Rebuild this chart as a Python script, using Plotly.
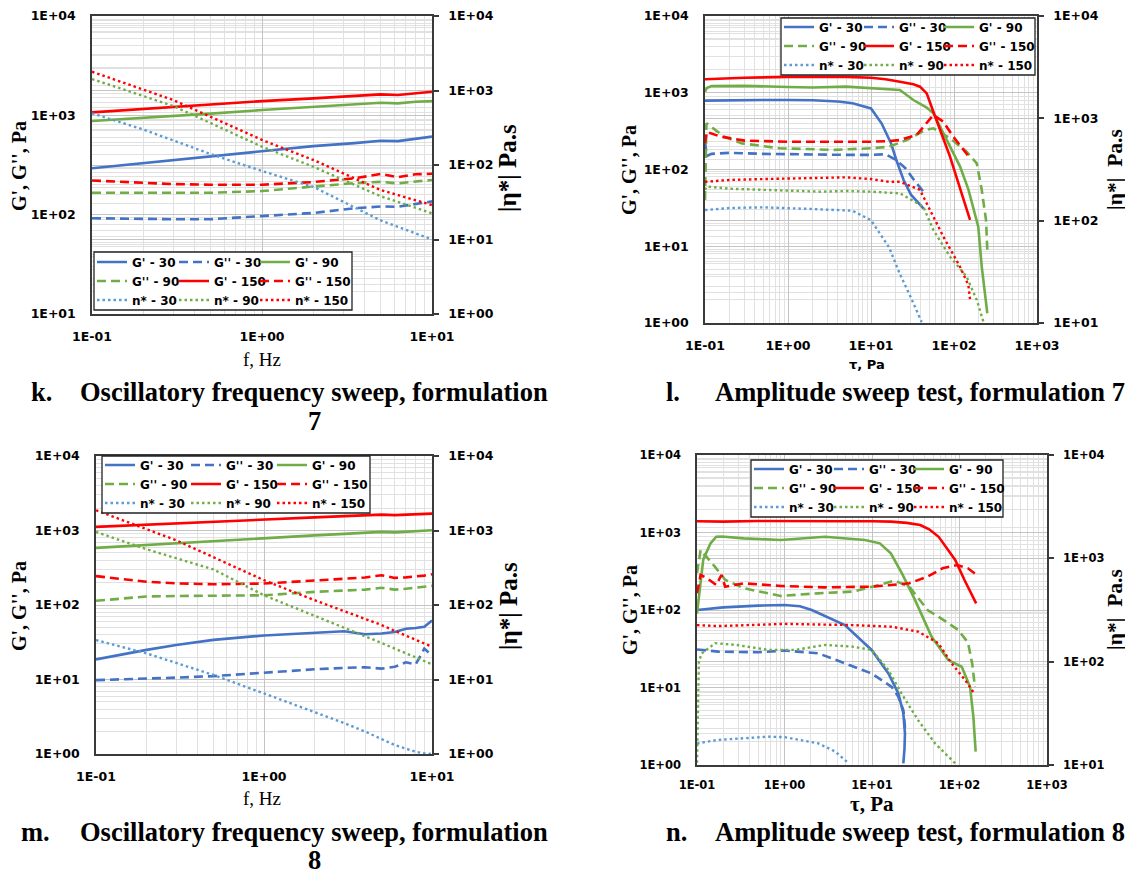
import plotly.graph_objects as go

# ======================= DATA =======================
# k. Oscillatory frequency sweep, formulation 7  (x: f, Hz)
k_freq = [0.1, 0.2, 0.3, 0.5, 1, 2, 3.5, 5, 6.3, 8, 10]
k_gp_30 = [293, 330, 355, 390, 440, 490, 525, 555, 550, 580, 610]
k_gpp_30 = [92, 90, 90, 90, 96, 104, 116, 121, 120, 128, 136]
k_gp_90 = [877, 940, 985, 1040, 1130, 1210, 1290, 1340, 1320, 1370, 1390]
k_gpp_90 = [166, 165, 165, 166, 173, 191, 208, 214, 206, 216, 223]
k_gp_150 = [1070, 1160, 1220, 1290, 1390, 1480, 1560, 1625, 1600, 1680, 1730]
k_gpp_150 = [221, 208, 203, 200, 200, 213, 232, 257, 238, 255, 258]
k_eta_30 = [494, 300, 214, 140, 83, 51, 27, 18, 14.8, 12.1, 10]
k_eta_90 = [1426, 844, 620, 364, 176, 95, 54, 38, 32, 26.6, 22.5]
k_eta_150 = [1786, 1028, 745, 442, 217, 117, 66, 46, 39.5, 33.7, 29]

# m. Oscillatory frequency sweep, formulation 8  (x: f, Hz)
m_freq = [0.1, 0.2, 0.3, 0.5, 1, 2, 3, 4, 5, 6, 7, 8, 9, 10]
m_gp_30 = [18.6, 25, 29, 34, 39, 43, 44.5, 40.5, 41.5, 43.5, 48, 49, 51, 62]
m_gpp_30 = [9.8, 10.2, 10.6, 11.1, 12.4, 13.7, 14.3, 14.6, 14, 14.8, 17, 16, 26, 21]
m_gp_90 = [584, 640, 680, 730, 796, 860, 900, 930, 957, 945, 960, 985, 995, 1008]
m_gpp_90 = [114, 130, 132, 133, 135, 150, 156, 161, 170, 161, 165, 172, 176, 181]
m_gp_150 = [1117, 1200, 1260, 1330, 1416, 1500, 1560, 1600, 1634, 1610, 1630, 1660, 1675, 1686]
m_gpp_150 = [244, 205, 195, 190, 194, 215, 225, 234, 251, 231, 235, 240, 248, 259]
m_eta_30 = [33.8, 22.4, 16.7, 11.5, 6.5, 3.7, 2.6, 2.0, 1.6, 1.32, 1.18, 1.07, 1.02, 1.0]
m_eta_90 = [957, 560, 425, 300, 135, 72, 50, 38, 31, 26, 22.4, 19.7, 17.7, 16]
m_eta_150 = [1870, 1042, 740, 438, 215, 116, 83, 65, 54, 45, 39, 34, 30.5, 27.5]

# l. Amplitude sweep test, formulation 7  (x: tau, Pa)
l_gp_30_x = [0.1, 0.2, 0.5, 1, 2, 4, 6, 10, 13.4, 17.4, 20.2, 24.7, 30.3, 43]
l_gp_30_y = [790, 800, 805, 805, 800, 770, 728, 625, 400, 220, 133, 73, 47, 31]
l_gpp_30_x = [0.1, 0.105, 0.12, 0.2, 0.5, 1, 2, 5, 10, 15, 20, 26, 33, 43]
l_gpp_30_y = [230, 150, 160, 165, 160, 158, 157, 155, 155, 158, 133, 104, 73, 51]
l_gp_90_x = [0.1, 0.105, 0.12, 0.3, 1, 2, 5, 10, 22.3, 32.4, 46.9, 56.4, 74, 89.5, 118, 149, 196, 216, 252]
l_gp_90_y = [1030, 1150, 1220, 1230, 1190, 1170, 1200, 1150, 1086, 804, 640, 540, 300, 200, 110, 55, 18, 5.4, 1.34]
l_gpp_90_x = [0.1, 0.104, 0.17, 0.28, 0.8, 3.6, 10, 16.5, 27, 45, 56.4, 89.5, 142, 188, 216, 243, 252]
l_gpp_90_y = [40, 400, 268, 219, 189, 180, 189, 198, 242, 327, 344, 255, 171, 120, 54, 22, 8.9]
l_gp_150_x = [0.1, 0.3, 1, 2, 5, 10, 15, 22.3, 32.4, 38.9, 46.9, 56.4, 89.5, 156]
l_gp_150_y = [1500, 1570, 1610, 1620, 1610, 1570, 1500, 1390, 1290, 1200, 980, 565, 147, 22]
l_gpp_150_x = [0.1, 0.105, 0.15, 0.3, 1, 3, 10, 16.5, 22.3, 35.5, 46.9, 56.4, 74.3, 98, 149]
l_gpp_150_y = [220, 310, 270, 238, 230, 228, 230, 235, 242, 282, 398, 513, 420, 268, 150]
l_eta_30_x = [0.1, 0.2, 0.5, 1, 2, 6, 10, 16.5, 22.3, 30, 40.8]
l_eta_30_y = [127, 133, 135, 133, 130, 125, 101, 55, 30, 18, 10.2]
l_eta_90_x = [0.1, 0.105, 0.2, 0.5, 1, 2.5, 5, 10, 22.3, 30, 42.7, 56.4, 89.5, 142, 188, 226]
l_eta_90_y = [200, 215, 205, 200, 198, 192, 195, 192, 185, 160, 137, 81, 44.5, 28.3, 16.8, 10.3]
l_eta_150_x = [0.1, 0.2, 0.5, 1, 5, 10, 16.5, 22.3, 38.9, 51.4, 74.3, 118, 149, 156]
l_eta_150_y = [240, 250, 255, 258, 265, 255, 240, 240, 200, 127, 70, 35.5, 23.5, 17]

# n. Amplitude sweep test, formulation 8  (x: tau, Pa)
n_gp_30_x = [0.1, 0.2, 0.5, 1.0, 1.5, 2.05, 4.9, 9.9, 15.4, 20, 22.8, 23.8, 23.5, 22.8]
n_gp_30_y = [100, 108, 114, 116, 112, 100, 64, 30.5, 15.2, 8.4, 4.65, 2.56, 1.6, 1.05]
n_gpp_30_x = [0.1, 0.175, 0.5, 1.0, 2.43, 4.9, 9.9, 16.8, 20, 22.8, 23.8, 23]
n_gpp_30_y = [31, 29, 28.5, 30, 27.6, 20.5, 15.2, 10.2, 7.6, 5.1, 3.1, 2.6]
n_gp_90_x = [0.1, 0.118, 0.143, 0.166, 0.192, 0.343, 0.9, 2.9, 8.3, 12.3, 16.4, 22, 31, 48, 74.5, 106, 132, 144, 153]
n_gp_90_y = [90, 450, 725, 883, 886, 841, 800, 883, 800, 725, 539, 297, 135, 45, 22.6, 18.5, 10.2, 4.2, 1.49]
n_gpp_90_x = [0.1, 0.11, 0.16, 0.211, 0.343, 0.9, 2.38, 6.2, 10.1, 18.1, 26.7, 43.2, 70, 97, 125, 140, 150]
n_gpp_90_y = [300, 594, 362, 244, 191, 152, 164, 173, 200, 239, 200, 100, 71, 55, 38, 20, 10.2]
n_gp_150_x = [0.1, 0.2, 0.5, 1, 5, 10, 16.5, 25, 35.6, 45, 57.8, 89.3, 114, 155]
n_gp_150_y = [1400, 1380, 1410, 1400, 1400, 1400, 1380, 1330, 1250, 1100, 880, 442, 244, 122]
n_gpp_150_x = [0.1, 0.11, 0.13, 0.166, 0.19, 0.21, 0.34, 0.9, 2.9, 10, 26.7, 43, 64, 94, 125, 158]
n_gpp_150_y = [164, 283, 257, 210, 283, 200, 221, 204, 196, 200, 221, 269, 345, 381, 345, 283]
n_eta_30_x = [0.1, 0.175, 0.65, 1.0, 2.43, 3.8, 5.4]
n_eta_30_y = [16.2, 17.5, 18.8, 18.6, 16.2, 13.5, 10.4]
n_eta_90_x = [0.1, 0.105, 0.113, 0.161, 0.284, 0.65, 1.32, 2.9, 5.86, 9.9, 15.4, 21.8, 33.8, 52.5, 89]
n_eta_90_y = [10.5, 100, 120, 151, 145, 130, 130, 145, 140, 130, 83, 49, 27, 16.2, 10.4]
n_eta_150_x = [0.1, 0.175, 1.0, 5.86, 16.8, 33.8, 57.3, 81.5, 116, 148]
n_eta_150_y = [226, 221, 232, 226, 218, 195, 151, 96, 66.5, 49]

series_names = ["G' - 30", "G'' - 30", "G' - 90", "G'' - 90", "G' - 150", "G'' - 150",
                "n* - 30", "n* - 90", "n* - 150"]

# ======================= STYLE / LAYOUT =======================
W, H = 1133, 875
OX, OY = 8, 8          # page offset of the plot div (default body margin)
BLUE, LBLUE, GREEN, RED = "#4472C4", "#5B9BD5", "#70AD47", "#FF0000"
DASH, DOT = "9px,5px", "2.5px,3px"
STYLES = [(BLUE, "solid", 2.6), (BLUE, DASH, 2.6), (GREEN, "solid", 2.6),
          (GREEN, DASH, 2.6), (RED, "solid", 2.6), (RED, DASH, 2.6),
          (LBLUE, DOT, 2.4), (GREEN, DOT, 2.4), (RED, DOT, 2.4)]
FRAME, MAJ, MIN = "#3a3a3a", "#c4c4c4", "#e1e1e1"
SANS = "DejaVu Sans"
LEGFONT = dict(family=SANS, size=12, color="black", weight="bold")
SERIF = "Liberation Serif"


def fx(px):
    return (px - OX) / W


def fy(py):
    return 1 - (py - OY) / H


def elabel(e):
    return "1E%s%02d" % ("+" if e >= 0 else "-", abs(e))


def minor_vals(lo, hi):
    return [m * 10 ** e for e in range(lo, hi) for m in range(2, 10)]


panels = [
    dict(box=(92, 16, 432, 314), xr=(-1, 1), yl=(1, 4), yr=(0, 4), tick=12.5, xst=10,
         series=[(k_freq, k_gp_30), (k_freq, k_gpp_30), (k_freq, k_gp_90), (k_freq, k_gpp_90),
                 (k_freq, k_gp_150), (k_freq, k_gpp_150), (k_freq, k_eta_30), (k_freq, k_eta_90),
                 (k_freq, k_eta_150)],
         leg_top=247.5, leg_x=(92, 174, 255), legbox=(94, 252, 352, 310)),
    dict(box=(705, 16, 1037, 323), xr=(-1, 3), yl=(0, 4), yr=(1, 4), tick=12.5, xst=10,
         series=[(l_gp_30_x, l_gp_30_y), (l_gpp_30_x, l_gpp_30_y), (l_gp_90_x, l_gp_90_y),
                 (l_gpp_90_x, l_gpp_90_y), (l_gp_150_x, l_gp_150_y), (l_gpp_150_x, l_gpp_150_y),
                 (l_eta_30_x, l_eta_30_y), (l_eta_90_x, l_eta_90_y), (l_eta_150_x, l_eta_150_y)],
         leg_top=12.5, leg_x=(779, 859, 939), legbox=(781, 18, 1035, 75)),
    dict(box=(96, 456, 432, 754), xr=(-1, 1), yl=(0, 4), yr=(0, 4), tick=12.5, xst=10,
         series=[(m_freq, m_gp_30), (m_freq, m_gpp_30), (m_freq, m_gp_90), (m_freq, m_gpp_90),
                 (m_freq, m_gp_150), (m_freq, m_gpp_150), (m_freq, m_eta_30), (m_freq, m_eta_90),
                 (m_freq, m_eta_150)],
         leg_top=450.5, leg_x=(100, 186, 272), legbox=(102, 456, 370, 513)),
    dict(box=(697, 455, 1047, 765), xr=(-1, 3), yl=(0, 4), yr=(1, 4), tick=11.5, xst=8,
         series=[(n_gp_30_x, n_gp_30_y), (n_gpp_30_x, n_gpp_30_y), (n_gp_90_x, n_gp_90_y),
                 (n_gpp_90_x, n_gpp_90_y), (n_gp_150_x, n_gp_150_y), (n_gpp_150_x, n_gpp_150_y),
                 (n_eta_30_x, n_eta_30_y), (n_eta_90_x, n_eta_90_y), (n_eta_150_x, n_eta_150_y)],
         leg_top=454.5, leg_x=(749, 829, 909), legbox=(751, 460, 1003, 517)),
]

fig = go.Figure()
layout = dict(width=W, height=H, margin=dict(l=0, r=0, t=0, b=0, autoexpand=False),
              paper_bgcolor="white", plot_bgcolor="white", showlegend=True,
              hovermode=False)
shapes, annotations = [], []

for i, p in enumerate(panels):
    xi = i + 1
    yli, yri = 2 * i + 1, 2 * i + 2
    xname = "xaxis" if xi == 1 else "xaxis%d" % xi
    ylname = "yaxis" if yli == 1 else "yaxis%d" % yli
    yrname = "yaxis%d" % yri
    xref = "x" if xi == 1 else "x%d" % xi
    ylref = "y" if yli == 1 else "y%d" % yli
    yrref = "y%d" % yri
    x0, y0, x1, y1 = p["box"]
    xdom = [fx(x0), fx(x1)]
    ydom = [fy(y1), fy(y0)]
    tickfont = dict(family=SANS, size=p["tick"], color="black", weight="bold")

    def grid_axis(rng):
        return dict(type="log", range=list(rng), tickmode="array",
                    tickvals=[10 ** e for e in range(rng[0], rng[1] + 1)],
                    ticktext=[elabel(e) for e in range(rng[0], rng[1] + 1)],
                    showgrid=True, gridcolor=MAJ, gridwidth=1, zeroline=False,
                    minor=dict(tickmode="array", tickvals=minor_vals(rng[0], rng[1]),
                               showgrid=True, gridcolor=MIN, gridwidth=1, ticks=""),
                    tickfont=tickfont, fixedrange=True)

    xa = grid_axis(p["xr"])
    xa.update(domain=xdom, anchor=ylref, showline=True, linecolor=FRAME, linewidth=1.5,
              mirror=True, ticks="", ticklabelstandoff=p["xst"])
    ya = grid_axis(p["yl"])
    ya.update(domain=ydom, anchor=xref, showline=True, linecolor=FRAME, linewidth=1.5,
              ticks="", ticklabelstandoff=12)
    yb = grid_axis(p["yr"])
    yb.update(domain=ydom, anchor=xref, overlaying=ylref, side="right", showline=True,
              linecolor=FRAME, linewidth=1.5, ticks="outside", ticklen=5, tickwidth=1.5,
              tickcolor=FRAME, ticklabelstandoff=7)
    layout[xname] = xa
    layout[ylname] = ya
    layout[yrname] = yb

    # legends: 3 columns per panel
    for c in range(3):
        ln = 3 * i + c + 1
        lname = "legend" if ln == 1 else "legend%d" % ln
        layout[lname] = dict(x=fx(p["leg_x"][c]), y=fy(p["leg_top"]), xanchor="left",
                             yanchor="top", bgcolor="rgba(0,0,0,0)", borderwidth=0,
                             font=LEGFONT, itemwidth=30, tracegroupgap=0,
                             traceorder="normal", itemclick=False, itemdoubleclick=False)

    for s, (xs, ys) in enumerate(p["series"]):
        color, dash, w = STYLES[s]
        ln = 3 * i + (s % 3) + 1
        fig.add_trace(go.Scatter(
            x=xs, y=ys, mode="lines", name=series_names[s],
            line=dict(color=color, dash=dash, width=w),
            xaxis=xref, yaxis=(yrref if s >= 6 else ylref),
            legend=("legend" if ln == 1 else "legend%d" % ln),
            hoverinfo="skip"))

    bx0, by0, bx1, by1 = p["legbox"]
    shapes.append(dict(type="rect", xref="paper", yref="paper", x0=fx(bx0), x1=fx(bx1),
                       y0=fy(by1), y1=fy(by0), fillcolor="white",
                       line=dict(color="#222222", width=1.3), layer="above"))


def ann(text, px, py, size, family=SERIF, bold=True, angle=0, xanchor="center"):
    annotations.append(dict(
        text=text, x=fx(px), y=fy(py), xref="paper", yref="paper", showarrow=False,
        xanchor=xanchor, yanchor="middle", textangle=angle,
        font=dict(family=family, size=size, color="black",
                  weight="bold" if bold else "normal")))


# axis titles
ann("G', G'', Pa", 19, 166, 20, angle=-90)
ann("|η*| Pa.s", 508, 168, 25, angle=-90)
ann("f, Hz", 262, 359, 19, bold=False)
ann("G', G'', Pa", 629, 170, 20, angle=-90)
ann("|η*|  Pa.s", 1115, 170, 21.5, angle=-90)
ann("τ, Pa", 867, 365, 13, family=SANS)
ann("G', G'', Pa", 19, 606, 20, angle=-90)
ann("|η*| Pa.s", 508, 606, 25, angle=-90)
ann("f, Hz", 262, 798, 19, bold=False)
ann("G', G'', Pa", 630, 610, 20, angle=-90)
ann("|η*|  Pa.s", 1115, 610, 21.5, angle=-90)
ann("τ, Pa", 872, 804, 21)

# captions
ann("k.", 29, 392, 26.5, xanchor="left")
ann("Oscillatory frequency sweep, formulation", 78, 392, 26.5, xanchor="left")
ann("7", 314, 421, 26.5)
ann("l.", 664, 392, 26.5, xanchor="left")
ann("Amplitude sweep test, formulation 7", 713, 392, 26.5, xanchor="left")
ann("m.", 19, 832, 26.5, xanchor="left")
ann("Oscillatory frequency sweep, formulation", 78, 832, 26.5, xanchor="left")
ann("8", 314, 860, 26.5)
ann("n.", 664, 832, 26.5, xanchor="left")
ann("Amplitude sweep test, formulation 8", 713, 832, 26.5, xanchor="left")

layout["shapes"] = shapes
layout["annotations"] = annotations
fig.update_layout(**layout)
fig.write_html("out.html")
